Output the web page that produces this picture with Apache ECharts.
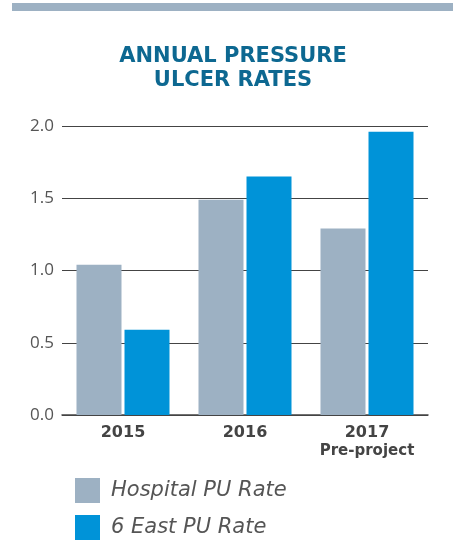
<!DOCTYPE html>
<html>
<head>
<meta charset="utf-8">
<script src="https://cdn.jsdelivr.net/npm/echarts@6/dist/echarts.min.js"></script>
<style>
html,body{margin:0;padding:0;background:#fff;}
#chart{width:453px;height:542px;}
</style>
</head>
<body>
<div id="chart"></div>
<script>
var categories = ['2015', '2016', '2017'];
var categorySubtitles = ['', '', 'Pre-project'];
var hospitalRate = [1.04, 1.49, 1.29];
var eastRate = [0.59, 1.65, 1.96];
var seriesNames = ['Hospital PU Rate', '6 East PU Rate'];
var yTicks = [0, 0.5, 1.0, 1.5, 2.0];

var chart = echarts.init(document.getElementById('chart'), null, {renderer: 'canvas'});
var option = {
  backgroundColor: '#ffffff',
  animation: false,
  title: {
    text: 'ANNUAL PRESSURE\nULCER RATES',
    left: 233,
    textAlign: 'center',
    top: 45,
    padding: 0,
    textStyle: {
      fontFamily: 'DejaVu Sans',
      fontWeight: 'bold',
      fontSize: 21,
      lineHeight: 24,
      color: '#0d6891'
    }
  },
  graphic: [{
    type: 'rect',
    shape: {x: 12, y: 3, width: 441, height: 8},
    style: {fill: '#9db1c3'},
    silent: true
  }],
  legend: {
    orient: 'vertical',
    left: 75,
    top: 478,
    padding: 0,
    itemWidth: 25,
    itemHeight: 25,
    itemGap: 12,
    icon: 'rect',
    textStyle: {
      fontFamily: 'DejaVu Sans',
      fontStyle: 'italic',
      fontSize: 21,
      color: '#555555',
      padding: [0, 0, 0, 6]
    },
    data: seriesNames
  },
  grid: {left: 62, right: 25, top: 126, bottom: 127, containLabel: false},
  xAxis: {
    type: 'category',
    data: categories,
    axisTick: {show: false},
    axisLine: {lineStyle: {color: '#444444', width: 1.5}},
    axisLabel: {
      margin: 9,
      interval: 0,
      formatter: function (v, i) {
        var s = categorySubtitles[i];
        return s ? '{a|' + v + '}\n{b|' + s + '}' : '{a|' + v + '}';
      },
      rich: {
        a: {fontFamily: 'DejaVu Sans', fontWeight: 'bold', fontSize: 16, color: '#444444', lineHeight: 17},
        b: {fontFamily: 'DejaVu Sans', fontWeight: 'bold', fontSize: 15, color: '#444444', lineHeight: 21}
      }
    }
  },
  yAxis: {
    type: 'value',
    min: yTicks[0],
    max: yTicks[yTicks.length - 1],
    interval: 0.5,
    axisLine: {show: false},
    axisTick: {show: false},
    splitLine: {lineStyle: {color: '#444444', width: 1.2}},
    axisLabel: {
      margin: 8,
      fontFamily: 'Open Sans',
      fontSize: 17,
      color: '#555555',
      formatter: function (v) { return v.toFixed(1); }
    }
  },
  series: [
    {
      name: seriesNames[0],
      type: 'bar',
      data: hospitalRate,
      barWidth: 45,
      barGap: '6.7%',
      itemStyle: {color: '#9db1c3'}
    },
    {
      name: seriesNames[1],
      type: 'bar',
      data: eastRate,
      barWidth: 45,
      barGap: '6.7%',
      itemStyle: {color: '#0093d8'}
    }
  ]
};
chart.setOption(option);
</script>
</body>
</html>
